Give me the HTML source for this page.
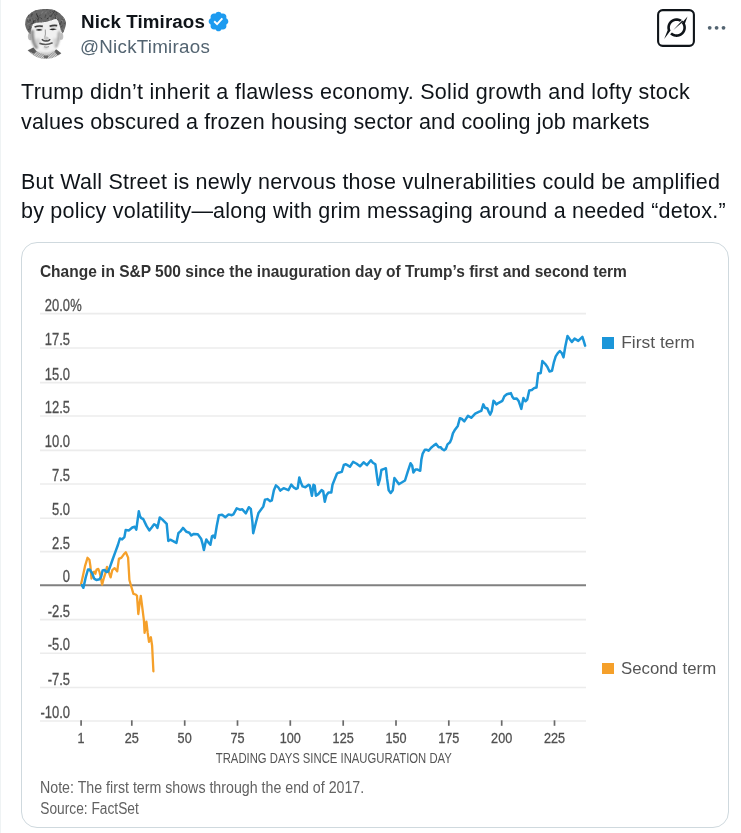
<!DOCTYPE html>
<html><head><meta charset="utf-8">
<style>
html,body{margin:0;padding:0;background:#fff;}
body{width:741px;height:833px;overflow:hidden;position:relative;font-family:"Liberation Sans",Arial,sans-serif;}
.abs{position:absolute;}
.vline{left:0;top:0;width:1px;height:833px;background:#eff3f4;}
.name{left:81px;top:10.8px;font-size:18.75px;letter-spacing:0.1px;font-weight:bold;color:#0f1419;white-space:nowrap;}
.handle{left:80px;top:35.9px;font-size:18.75px;letter-spacing:0.26px;color:#536471;white-space:nowrap;}
.bl{left:21px;font-size:21.5px;line-height:30px;color:#0f1419;white-space:nowrap;}
.card{left:21px;top:242px;width:706px;height:584px;border:1px solid #cfd9de;border-radius:16px;}
svg text{font-family:"Liberation Sans",Arial,sans-serif;}
</style></head><body>
<div class="abs vline"></div>
<svg class="abs" style="left:0;top:0" width="80" height="70" viewBox="0 0 80 70">
  <defs>
    <clipPath id="hc"><path d="M26.5 29.3 C25.5 27 25.2 24.8 25.2 24.8 C25.2 21 25.9 19 25.9 19 C27 16.5 29.1 14.4 29.1 14.4 C32 12 35 10.5 35 10.5 C39 9.3 43.4 8.9 43.4 8.9 C47 8.8 51.1 9.2 51.1 9.2 C55 10 58.3 12.2 58.3 12.2 C61 14.2 63.5 17 63.5 17 C65.3 19.5 66 22.2 66 22.2 C66.2 24.5 65.4 26.7 65.4 26.7 C64.6 29.5 63.5 31.9 63.5 31.9 L62.5 33.5 L60.9 30.6 C60.2 27.5 59.6 25.4 59.6 25.4 C59 23 58.3 21.5 58.3 21.5 C57.3 19.6 56.3 19 56.3 19 C55 19.2 53.7 19.6 53.7 19.6 C51 20.6 47.9 21.5 47.9 21.5 C44.5 22.1 41.4 22.5 41.4 22.5 C38.5 22.5 36.2 22.8 36.2 22.8 C34.5 23.3 33 24.1 33 24.1 C32.2 25.6 31.7 27.4 31.7 27.4 C30.8 30 30.5 34 30.5 34 L28.5 32.5 Z"/></clipPath>
    <filter id="b1" x="-20%" y="-20%" width="140%" height="140%"><feGaussianBlur stdDeviation="0.5"/></filter>
    <filter id="b2" x="-30%" y="-30%" width="160%" height="160%"><feGaussianBlur stdDeviation="1.1"/></filter>
    <pattern id="hatch2" width="1.4" height="1.4" patternUnits="userSpaceOnUse" patternTransform="rotate(-35)"><rect width="1.4" height="1.4" fill="#d6d6d6"/><rect width="0.5" height="1.4" fill="#7a7a7a"/></pattern>
  </defs>
  <path d="M27.6 50.2 L33 47.6 C36.5 51.8 41 54.2 46 54.6 C50.5 54.3 53.5 52 56 49.3 L61.4 53.2 C57 57.2 51 58.8 45 58.8 C38.5 58.6 32 55.6 27.6 50.2 Z" fill="url(#hatch2)"/>
  <g filter="url(#b1)">
    <path d="M27.8 50.6 L33.5 47.6 L36.5 51.5 L33.8 53.8 Z" fill="#5a5a5a"/>
    <path d="M61.2 53.3 L56 49.3 L54.4 51.6 L57.6 55.3 Z" fill="#5a5a5a"/>
    <path d="M43.5 55.5 L48.5 55.5 L47.6 58.3 L44.3 58.3 Z" fill="#666"/>
  </g>
  <ellipse cx="30.2" cy="36.5" rx="2.3" ry="3.8" fill="#bdbdbd" filter="url(#b1)"/>
  <ellipse cx="61.2" cy="36.4" rx="2.1" ry="3.4" fill="#c2c2c2" filter="url(#b1)"/>
  <path d="M30.8 30 C30.5 36 31 41 34.3 46.2 C36 48.6 38.2 50.7 43.4 54 C45 54.6 46.5 54.8 47.9 54.5 C50 53.8 52.4 52.3 52.4 52.3 C54.5 50.8 56.3 48.8 56.3 48.8 C58 46 58.9 43 58.9 43 C60 40 60.2 37.8 60.6 33 C61 27 60 22 58 20 L33 22 Z" fill="#f1f1f1"/>
  <g filter="url(#b2)" opacity="0.9">
    <path d="M32.2 30 C31.8 37 33 43 37 48.5" stroke="#7a7a7a" stroke-width="3.2" fill="none"/><path d="M59 33 C59 38 58 43 55.5 47" stroke="#8a8a8a" stroke-width="2.4" fill="none"/>
    <path d="M59.4 31 C59.3 37 58.5 42 56 47" stroke="#9a9a9a" stroke-width="2" fill="none"/>
    <ellipse cx="37.8" cy="41.5" rx="2.6" ry="3.2" fill="#cfcfcf"/>
    <ellipse cx="55" cy="41.5" rx="2.2" ry="3.4" fill="#d2d2d2"/>
    <ellipse cx="46" cy="48" rx="2.4" ry="1.2" fill="#c8c8c8"/>
    <path d="M36 52 Q46 56.5 55 51.5" stroke="#a8a8a8" stroke-width="1.6" fill="none"/>
    <ellipse cx="39" cy="27.5" rx="4" ry="2" fill="#d8d8d8"/>
    <ellipse cx="53.2" cy="27" rx="4" ry="2" fill="#d8d8d8"/>
  </g>
  <path d="M26.5 29.3 C25.5 27 25.2 24.8 25.2 24.8 C25.2 21 25.9 19 25.9 19 C27 16.5 29.1 14.4 29.1 14.4 C32 12 35 10.5 35 10.5 C39 9.3 43.4 8.9 43.4 8.9 C47 8.8 51.1 9.2 51.1 9.2 C55 10 58.3 12.2 58.3 12.2 C61 14.2 63.5 17 63.5 17 C65.3 19.5 66 22.2 66 22.2 C66.2 24.5 65.4 26.7 65.4 26.7 C64.6 29.5 63.5 31.9 63.5 31.9 L62.5 33.5 L60.9 30.6 C60.2 27.5 59.6 25.4 59.6 25.4 C59 23 58.3 21.5 58.3 21.5 C57.3 19.6 56.3 19 56.3 19 C55 19.2 53.7 19.6 53.7 19.6 C51 20.6 47.9 21.5 47.9 21.5 C44.5 22.1 41.4 22.5 41.4 22.5 C38.5 22.5 36.2 22.8 36.2 22.8 C34.5 23.3 33 24.1 33 24.1 C32.2 25.6 31.7 27.4 31.7 27.4 C30.8 30 30.5 34 30.5 34 L28.5 32.5 Z" fill="#686868"/>
  <g clip-path="url(#hc)">
    <path d="M34.8 22.4 L35.4 20.2" stroke="#2e2e2e" stroke-width="0.74"/><path d="M62.3 20.5 L63.6 18.2" stroke="#9a9a9a" stroke-width="0.83"/><path d="M44.5 24.8 L45.9 23.7" stroke="#9a9a9a" stroke-width="0.66"/><path d="M25.6 28.3 L24.0 27.5" stroke="#2e2e2e" stroke-width="0.83"/><path d="M36.0 23.7 L38.2 21.1" stroke="#8a8a8a" stroke-width="0.66"/><path d="M57.8 19.8 L55.0 18.0" stroke="#3a3a3a" stroke-width="0.70"/><path d="M35.6 25.6 L35.0 22.6" stroke="#8a8a8a" stroke-width="0.73"/><path d="M46.9 18.9 L48.6 17.9" stroke="#2e2e2e" stroke-width="0.84"/><path d="M65.6 25.6 L67.3 24.8" stroke="#9a9a9a" stroke-width="0.73"/><path d="M54.3 13.9 L52.7 11.1" stroke="#2e2e2e" stroke-width="0.69"/><path d="M51.2 20.8 L53.0 19.6" stroke="#2e2e2e" stroke-width="0.62"/><path d="M56.5 30.8 L55.1 30.1" stroke="#555" stroke-width="0.73"/><path d="M47.6 32.0 L45.7 31.1" stroke="#2e2e2e" stroke-width="0.53"/><path d="M49.6 9.3 L50.1 7.5" stroke="#3a3a3a" stroke-width="0.78"/><path d="M65.2 17.2 L66.9 15.8" stroke="#8a8a8a" stroke-width="0.68"/><path d="M46.3 24.9 L47.1 22.3" stroke="#9a9a9a" stroke-width="0.61"/><path d="M51.0 26.7 L49.1 23.9" stroke="#444" stroke-width="0.72"/><path d="M25.5 19.1 L26.2 16.5" stroke="#555" stroke-width="0.55"/><path d="M51.0 17.0 L51.6 14.8" stroke="#444" stroke-width="0.80"/><path d="M25.9 10.0 L24.3 7.7" stroke="#8a8a8a" stroke-width="0.62"/><path d="M49.7 13.0 L51.1 11.8" stroke="#444" stroke-width="0.62"/><path d="M40.5 28.2 L41.3 26.9" stroke="#444" stroke-width="0.70"/><path d="M51.8 15.4 L52.6 13.4" stroke="#2e2e2e" stroke-width="0.54"/><path d="M38.2 17.0 L40.6 15.0" stroke="#3a3a3a" stroke-width="0.53"/><path d="M55.4 14.1 L57.1 12.0" stroke="#2e2e2e" stroke-width="0.71"/><path d="M32.8 29.1 L31.2 26.3" stroke="#555" stroke-width="0.53"/><path d="M50.4 23.5 L52.2 22.0" stroke="#8a8a8a" stroke-width="0.64"/><path d="M42.1 19.2 L40.4 17.7" stroke="#2e2e2e" stroke-width="0.69"/><path d="M59.1 24.4 L61.5 23.4" stroke="#555" stroke-width="0.59"/><path d="M55.6 29.8 L54.2 27.4" stroke="#444" stroke-width="0.86"/><path d="M60.3 30.4 L58.3 27.6" stroke="#2e2e2e" stroke-width="0.86"/><path d="M53.4 32.1 L54.1 28.8" stroke="#2e2e2e" stroke-width="0.69"/><path d="M30.0 21.3 L30.1 19.4" stroke="#2e2e2e" stroke-width="0.88"/><path d="M50.1 17.2 L50.0 15.2" stroke="#2e2e2e" stroke-width="0.64"/><path d="M33.1 22.1 L35.1 19.8" stroke="#3a3a3a" stroke-width="0.83"/><path d="M25.3 24.5 L23.6 21.8" stroke="#444" stroke-width="0.75"/><path d="M46.3 9.8 L48.0 8.4" stroke="#3a3a3a" stroke-width="0.52"/><path d="M27.0 20.8 L27.1 19.2" stroke="#8a8a8a" stroke-width="0.63"/><path d="M37.9 17.5 L37.0 14.8" stroke="#3a3a3a" stroke-width="0.90"/><path d="M42.6 11.8 L43.6 10.6" stroke="#9a9a9a" stroke-width="0.57"/><path d="M40.3 23.9 L42.4 21.6" stroke="#9a9a9a" stroke-width="0.85"/><path d="M27.2 24.5 L29.9 23.1" stroke="#8a8a8a" stroke-width="0.68"/><path d="M35.0 22.2 L34.5 19.3" stroke="#8a8a8a" stroke-width="0.55"/><path d="M26.2 16.8 L28.9 14.7" stroke="#2e2e2e" stroke-width="0.69"/><path d="M30.0 29.2 L31.9 27.1" stroke="#555" stroke-width="0.54"/><path d="M38.1 22.1 L37.9 18.9" stroke="#3a3a3a" stroke-width="0.81"/><path d="M26.8 10.8 L25.6 9.6" stroke="#2e2e2e" stroke-width="0.64"/><path d="M59.9 9.1 L60.7 7.6" stroke="#444" stroke-width="0.73"/><path d="M57.7 9.4 L59.3 6.8" stroke="#2e2e2e" stroke-width="0.72"/><path d="M29.1 22.6 L27.3 20.8" stroke="#2e2e2e" stroke-width="0.60"/><path d="M32.4 14.9 L31.7 12.2" stroke="#444" stroke-width="0.74"/><path d="M63.5 22.7 L61.4 20.0" stroke="#8a8a8a" stroke-width="0.84"/><path d="M64.7 19.1 L66.9 17.7" stroke="#555" stroke-width="0.69"/><path d="M51.4 31.4 L52.4 29.9" stroke="#555" stroke-width="0.71"/><path d="M43.2 26.8 L41.9 25.4" stroke="#9a9a9a" stroke-width="0.71"/><path d="M63.3 30.2 L64.4 27.9" stroke="#8a8a8a" stroke-width="0.74"/><path d="M49.0 33.6 L47.2 30.8" stroke="#8a8a8a" stroke-width="0.58"/><path d="M48.4 14.6 L47.9 12.2" stroke="#555" stroke-width="0.69"/><path d="M49.6 20.4 L50.0 17.3" stroke="#8a8a8a" stroke-width="0.90"/><path d="M28.0 32.7 L25.2 31.3" stroke="#3a3a3a" stroke-width="0.86"/><path d="M51.6 28.3 L50.7 27.0" stroke="#3a3a3a" stroke-width="0.81"/><path d="M30.6 24.4 L33.1 23.0" stroke="#3a3a3a" stroke-width="0.85"/><path d="M37.9 19.3 L35.4 17.7" stroke="#444" stroke-width="0.51"/><path d="M43.5 27.2 L42.7 25.2" stroke="#8a8a8a" stroke-width="0.69"/><path d="M33.6 23.4 L34.0 20.0" stroke="#2e2e2e" stroke-width="0.85"/><path d="M28.1 19.5 L26.8 17.6" stroke="#9a9a9a" stroke-width="0.88"/><path d="M40.3 28.2 L41.6 25.5" stroke="#555" stroke-width="0.88"/><path d="M58.5 11.2 L59.1 7.9" stroke="#9a9a9a" stroke-width="0.55"/><path d="M45.2 17.5 L45.7 14.6" stroke="#3a3a3a" stroke-width="0.76"/><path d="M54.9 12.3 L54.7 10.1" stroke="#2e2e2e" stroke-width="0.87"/><path d="M30.8 17.0 L31.2 14.0" stroke="#555" stroke-width="0.57"/><path d="M44.8 28.4 L42.7 26.4" stroke="#9a9a9a" stroke-width="0.72"/><path d="M55.3 17.7 L56.9 16.4" stroke="#2e2e2e" stroke-width="0.69"/><path d="M36.1 26.2 L38.4 25.1" stroke="#8a8a8a" stroke-width="0.72"/><path d="M56.6 17.5 L54.9 14.8" stroke="#2e2e2e" stroke-width="0.77"/><path d="M48.1 31.7 L48.4 30.0" stroke="#555" stroke-width="0.80"/><path d="M58.4 27.6 L57.8 25.0" stroke="#3a3a3a" stroke-width="0.72"/><path d="M32.0 13.1 L30.4 10.2" stroke="#8a8a8a" stroke-width="0.86"/><path d="M63.9 18.3 L64.8 15.8" stroke="#9a9a9a" stroke-width="0.77"/><path d="M37.3 30.4 L38.6 28.3" stroke="#2e2e2e" stroke-width="0.54"/><path d="M56.0 14.5 L54.8 13.1" stroke="#9a9a9a" stroke-width="0.58"/><path d="M58.3 32.1 L56.6 29.2" stroke="#555" stroke-width="0.86"/><path d="M30.6 28.7 L29.6 26.1" stroke="#3a3a3a" stroke-width="0.70"/><path d="M45.4 9.0 L44.6 7.0" stroke="#555" stroke-width="0.55"/><path d="M60.2 23.8 L62.0 21.0" stroke="#444" stroke-width="0.90"/><path d="M33.4 10.1 L32.2 8.6" stroke="#444" stroke-width="0.54"/><path d="M26.8 10.5 L26.7 8.6" stroke="#555" stroke-width="0.53"/><path d="M59.9 13.8 L59.7 11.3" stroke="#555" stroke-width="0.66"/><path d="M32.4 31.4 L31.5 28.6" stroke="#9a9a9a" stroke-width="0.64"/><path d="M41.5 33.2 L40.5 30.3" stroke="#8a8a8a" stroke-width="0.71"/><path d="M31.5 9.1 L32.4 6.5" stroke="#3a3a3a" stroke-width="0.54"/><path d="M31.9 21.0 L31.7 19.4" stroke="#8a8a8a" stroke-width="0.51"/><path d="M54.3 14.6 L55.6 13.7" stroke="#3a3a3a" stroke-width="0.60"/><path d="M41.0 13.4 L42.8 12.2" stroke="#9a9a9a" stroke-width="0.52"/><path d="M54.8 15.5 L57.5 14.0" stroke="#444" stroke-width="0.70"/><path d="M48.0 9.3 L47.1 7.3" stroke="#2e2e2e" stroke-width="0.77"/><path d="M64.7 23.6 L63.5 22.8" stroke="#3a3a3a" stroke-width="0.70"/><path d="M44.8 13.3 L46.8 11.9" stroke="#8a8a8a" stroke-width="0.64"/><path d="M44.6 17.5 L46.2 15.2" stroke="#555" stroke-width="0.88"/><path d="M28.6 16.0 L27.7 12.9" stroke="#444" stroke-width="0.71"/><path d="M56.9 18.8 L56.0 15.7" stroke="#9a9a9a" stroke-width="0.64"/><path d="M32.5 28.9 L33.7 26.9" stroke="#444" stroke-width="0.61"/><path d="M32.0 26.9 L31.2 24.3" stroke="#8a8a8a" stroke-width="0.52"/><path d="M32.0 27.7 L33.5 24.9" stroke="#555" stroke-width="0.54"/><path d="M34.7 30.0 L36.9 28.3" stroke="#8a8a8a" stroke-width="0.69"/><path d="M60.6 25.0 L58.2 22.4" stroke="#2e2e2e" stroke-width="0.64"/><path d="M37.8 20.0 L39.2 17.2" stroke="#3a3a3a" stroke-width="0.87"/><path d="M30.9 33.6 L29.7 32.3" stroke="#9a9a9a" stroke-width="0.71"/><path d="M45.7 31.6 L47.1 30.0" stroke="#8a8a8a" stroke-width="0.57"/><path d="M28.2 29.6 L29.8 28.8" stroke="#3a3a3a" stroke-width="0.88"/><path d="M35.5 11.3 L36.4 9.2" stroke="#2e2e2e" stroke-width="0.76"/><path d="M56.2 30.7 L55.9 28.6" stroke="#2e2e2e" stroke-width="0.62"/><path d="M63.7 19.8 L61.6 19.0" stroke="#444" stroke-width="0.79"/><path d="M28.2 17.3 L28.5 14.9" stroke="#555" stroke-width="0.65"/><path d="M57.1 10.2 L59.0 8.5" stroke="#2e2e2e" stroke-width="0.63"/><path d="M42.7 10.6 L44.3 9.7" stroke="#555" stroke-width="0.59"/><path d="M60.9 27.2 L62.7 25.7" stroke="#444" stroke-width="0.88"/><path d="M62.0 32.7 L61.5 30.3" stroke="#9a9a9a" stroke-width="0.87"/><path d="M37.0 32.3 L37.9 30.7" stroke="#444" stroke-width="0.70"/><path d="M27.5 20.5 L27.5 18.6" stroke="#2e2e2e" stroke-width="0.64"/><path d="M55.4 27.5 L54.4 25.7" stroke="#8a8a8a" stroke-width="0.68"/><path d="M33.4 20.9 L32.5 18.0" stroke="#555" stroke-width="0.65"/><path d="M31.6 16.5 L31.9 14.0" stroke="#444" stroke-width="0.88"/><path d="M36.8 9.3 L38.4 7.7" stroke="#555" stroke-width="0.60"/><path d="M58.1 8.8 L58.2 7.0" stroke="#3a3a3a" stroke-width="0.88"/><path d="M25.1 33.6 L27.9 32.3" stroke="#444" stroke-width="0.89"/><path d="M26.4 13.2 L25.9 11.8" stroke="#2e2e2e" stroke-width="0.74"/><path d="M58.3 20.0 L58.3 18.0" stroke="#555" stroke-width="0.60"/><path d="M26.8 19.5 L29.1 18.0" stroke="#9a9a9a" stroke-width="0.60"/><path d="M30.6 27.8 L32.8 25.7" stroke="#9a9a9a" stroke-width="0.55"/><path d="M25.7 9.7 L27.4 7.9" stroke="#8a8a8a" stroke-width="0.69"/><path d="M52.3 32.2 L51.6 29.1" stroke="#9a9a9a" stroke-width="0.75"/><path d="M37.0 10.4 L35.6 9.4" stroke="#444" stroke-width="0.68"/><path d="M36.4 15.0 L36.8 13.0" stroke="#3a3a3a" stroke-width="0.71"/><path d="M41.9 30.2 L42.7 27.2" stroke="#2e2e2e" stroke-width="0.63"/><path d="M49.5 11.5 L50.5 10.0" stroke="#444" stroke-width="0.54"/><path d="M52.4 18.0 L54.7 16.9" stroke="#555" stroke-width="0.68"/><path d="M37.8 17.3 L37.1 14.6" stroke="#2e2e2e" stroke-width="0.61"/><path d="M63.9 32.6 L62.9 30.7" stroke="#3a3a3a" stroke-width="0.67"/><path d="M41.9 31.4 L43.3 29.4" stroke="#555" stroke-width="0.71"/>
  </g>
  <g filter="url(#b1)">
    <path d="M34.6 27 Q38.8 25.4 42.8 26.4" stroke="#3c3c3c" stroke-width="1.7" fill="none"/>
    <path d="M49.6 26.3 Q53.5 24.8 57.2 25.6" stroke="#3c3c3c" stroke-width="1.7" fill="none"/>
    <path d="M35.6 30 Q39 28.2 42.6 29.9 Q39 31.4 35.6 30 Z" fill="#262626"/>
    <path d="M49.3 29.4 Q53 27.6 56.8 29.3 Q53 30.9 49.3 29.4 Z" fill="#262626"/>
    <path d="M45.3 29.5 C45.8 33 45.3 36 44.6 38.3" stroke="#a0a0a0" stroke-width="1.1" fill="none"/>
    <path d="M41.8 39.2 Q44 41.6 46.2 40.7 Q48.3 41.6 50.2 39.2" stroke="#4a4a4a" stroke-width="1.5" fill="none"/><ellipse cx="46.2" cy="38.2" rx="2.6" ry="1.8" fill="#c4c4c4"/>
    <path d="M39.4 43.2 Q46 45.8 52.6 42.8" stroke="#5a5a5a" stroke-width="1.5" fill="none"/>
    <path d="M44 46.8 Q46.5 47.8 49 46.6" stroke="#9a9a9a" stroke-width="1.1" fill="none"/>
  </g>
</svg>
<div class="abs name">Nick Timiraos</div>
<svg class="abs" style="left:207.4px;top:10.2px" width="23" height="23" viewBox="0 0 24 24"><path fill="#1d9bf0" d="M22.25 12c0-1.43-.88-2.67-2.19-3.34.46-1.39.2-2.9-.81-3.91s-2.52-1.27-3.91-.81c-.66-1.31-1.91-2.19-3.34-2.19s-2.67.88-3.33 2.19c-1.4-.46-2.91-.2-3.92.81s-1.26 2.52-.8 3.91c-1.31.67-2.2 1.91-2.2 3.34s.89 2.67 2.2 3.34c-.46 1.39-.21 2.9.8 3.91s2.52 1.26 3.91.81c.67 1.31 1.91 2.19 3.34 2.19s2.68-.88 3.34-2.19c1.39.45 2.9.2 3.91-.81s1.27-2.52.81-3.91c1.31-.67 2.19-1.91 2.19-3.34zm-11.71 4.2L6.8 12.46l1.41-1.42 2.26 2.26 4.8-5.23 1.47 1.36-6.2 6.77z"/></svg>
<div class="abs handle">@NickTimiraos</div>
<svg class="abs" style="left:654px;top:6px" width="44" height="44" viewBox="0 0 44 44">
  <rect x="4.1" y="4.1" width="35.8" height="35.8" rx="4.6" fill="none" stroke="#0f1419" stroke-width="2.1"/>
  <path d="M13.66 24.16 L13.62 24.01 L13.58 23.85 L13.54 23.69 L13.50 23.53 L13.47 23.37 L13.44 23.21 L13.41 23.05 L13.39 22.89 L13.37 22.73 L13.35 22.57 L13.34 22.41 L13.32 22.25 L13.31 22.09 L13.31 21.92 L13.30 21.76 L13.30 21.60 L13.30 21.44 L13.31 21.28 L13.31 21.11 L13.32 20.95 L13.34 20.79 L13.35 20.63 L13.37 20.47 L13.39 20.31 L13.41 20.15 L13.44 19.99 L13.47 19.83 L13.50 19.67 L13.54 19.51 L13.58 19.35 L13.62 19.19 L13.66 19.04 L13.71 18.88 L13.76 18.73 L13.81 18.57 L13.86 18.42 L13.92 18.27 L13.98 18.12 L14.04 17.97 L14.10 17.82 L14.17 17.67 L14.24 17.52 L14.31 17.38 L14.39 17.23 L14.47 17.09 L14.55 16.95 L14.63 16.81 L14.71 16.67 L14.80 16.53 L14.89 16.40 L14.98 16.27 L15.08 16.13 L15.17 16.00 L15.27 15.87 L15.37 15.75 L15.48 15.62 L15.58 15.50 L15.69 15.38 L15.80 15.26 L15.91 15.14 L16.02 15.02 L16.14 14.91 L16.26 14.80 L16.38 14.69 L16.50 14.58 L16.62 14.48 L16.75 14.37 L16.87 14.27 L17.00 14.17 L17.13 14.08 L17.27 13.98 L17.40 13.89 L17.53 13.80 L17.67 13.71 L17.81 13.63 L17.95 13.55 L18.09 13.47 L18.23 13.39 L18.38 13.31 L18.52 13.24 L18.67 13.17 L18.82 13.10 L18.97 13.04 L19.12 12.98 L19.27 12.92 L19.42 12.86 L19.57 12.81 L19.73 12.76 L19.88 12.71 L20.04 12.66 L20.19 12.62 L20.35 12.58 L20.51 12.54 L20.67 12.50 L20.83 12.47 L20.99 12.44 L21.15 12.41 L21.31 12.39 L21.47 12.37 L21.63 12.35 L21.79 12.34 L21.95 12.32 L22.11 12.31 L22.28 12.31 L22.44 12.30 L22.60 12.30 L22.76 12.30 L22.92 12.31 L23.09 12.31 L23.25 12.32 L23.41 12.34 L23.57 12.35 L23.73 12.37 L23.89 12.39 L24.05 12.41 L24.21 12.44 L24.37 12.47 L24.53 12.50 L24.69 12.54 L24.85 12.58 L25.01 12.62 L25.16 12.66 L25.32 12.71 L25.47 12.76 L25.63 12.81 L25.78 12.86 L25.93 12.92 L26.08 12.98 L26.23 13.04 L26.38 13.10 L26.53 13.17 L26.68 13.24 L26.82 13.31 L26.97 13.39 L27.11 13.47 L27.25 13.55 L27.39 13.63 L27.53 13.71 L27.67 13.80 L27.80 13.89 L25.85 15.74 L25.75 15.68 L25.64 15.63 L25.54 15.58 L25.43 15.53 L25.33 15.48 L25.22 15.43 L25.11 15.39 L25.00 15.35 L24.89 15.30 L24.78 15.27 L24.67 15.23 L24.56 15.19 L24.45 15.16 L24.33 15.13 L24.22 15.10 L24.11 15.07 L23.99 15.05 L23.88 15.02 L23.76 15.00 L23.65 14.98 L23.53 14.97 L23.42 14.95 L23.30 14.94 L23.18 14.93 L23.07 14.92 L22.95 14.91 L22.83 14.90 L22.72 14.90 L22.60 14.90 L22.48 14.90 L22.37 14.90 L22.25 14.91 L22.13 14.92 L22.02 14.93 L21.90 14.94 L21.78 14.95 L21.67 14.97 L21.55 14.98 L21.44 15.00 L21.32 15.02 L21.21 15.05 L21.09 15.07 L20.98 15.10 L20.87 15.13 L20.75 15.16 L20.64 15.19 L20.53 15.23 L20.42 15.27 L20.31 15.30 L20.20 15.35 L20.09 15.39 L19.98 15.43 L19.87 15.48 L19.77 15.53 L19.66 15.58 L19.56 15.63 L19.45 15.68 L19.35 15.74 L19.25 15.80 L19.15 15.86 L19.05 15.92 L18.95 15.98 L18.85 16.05 L18.76 16.11 L18.66 16.18 L18.57 16.25 L18.48 16.32 L18.38 16.39 L18.29 16.47 L18.20 16.54 L18.12 16.62 L18.03 16.70 L17.95 16.78 L17.86 16.86 L17.78 16.95 L17.70 17.03 L17.62 17.12 L17.54 17.20 L17.47 17.29 L17.39 17.38 L17.32 17.48 L17.25 17.57 L17.18 17.66 L17.11 17.76 L17.05 17.85 L16.98 17.95 L16.92 18.05 L16.86 18.15 L16.80 18.25 L16.74 18.35 L16.68 18.45 L16.63 18.56 L16.58 18.66 L16.53 18.77 L16.48 18.87 L16.43 18.98 L16.39 19.09 L16.35 19.20 L16.30 19.31 L16.27 19.42 L16.23 19.53 L16.19 19.64 L16.16 19.75 L16.13 19.87 L16.10 19.98 L16.07 20.09 L16.05 20.21 L16.02 20.32 L16.00 20.44 L15.98 20.55 L15.97 20.67 L15.95 20.78 L15.94 20.90 L15.93 21.02 L15.92 21.13 L15.91 21.25 L15.90 21.37 L15.90 21.48 L15.90 21.60 L15.90 21.72 L15.90 21.83 L15.91 21.95 L15.92 22.07 L15.93 22.18 L15.94 22.30 L15.95 22.42 L15.97 22.53 L15.98 22.65 L16.00 22.76 L16.02 22.88 L16.05 22.99 L16.07 23.11 L16.10 23.22 L16.13 23.33 L16.16 23.45 L16.19 23.56 L16.23 23.67 L16.27 23.78 L16.30 23.89 L16.35 24.00 L16.39 24.11 L16.43 24.22 L16.48 24.33 L16.53 24.43 L16.58 24.54 L10.20 32.90 Z" fill="#0f1419"/>
  <path d="M33.50 10.40 L30.96 17.52 L31.03 17.67 L31.10 17.82 L31.16 17.97 L31.22 18.12 L31.28 18.27 L31.34 18.42 L31.39 18.57 L31.44 18.73 L31.49 18.88 L31.54 19.04 L31.58 19.19 L31.62 19.35 L31.66 19.51 L31.70 19.67 L31.73 19.83 L31.76 19.99 L31.79 20.15 L31.81 20.31 L31.83 20.47 L31.85 20.63 L31.86 20.79 L31.88 20.95 L31.89 21.11 L31.89 21.28 L31.90 21.44 L31.90 21.60 L31.90 21.76 L31.89 21.92 L31.89 22.09 L31.88 22.25 L31.86 22.41 L31.85 22.57 L31.83 22.73 L31.81 22.89 L31.79 23.05 L31.76 23.21 L31.73 23.37 L31.70 23.53 L31.66 23.69 L31.62 23.85 L31.58 24.01 L31.54 24.16 L31.49 24.32 L31.44 24.47 L31.39 24.63 L31.34 24.78 L31.28 24.93 L31.22 25.08 L31.16 25.23 L31.10 25.38 L31.03 25.53 L30.96 25.68 L30.89 25.82 L30.81 25.97 L30.73 26.11 L30.65 26.25 L30.57 26.39 L30.49 26.53 L30.40 26.67 L30.31 26.80 L30.22 26.93 L30.12 27.07 L30.03 27.20 L29.93 27.33 L29.83 27.45 L29.72 27.58 L29.62 27.70 L29.51 27.82 L29.40 27.94 L29.29 28.06 L29.18 28.18 L29.06 28.29 L28.94 28.40 L28.82 28.51 L28.70 28.62 L28.58 28.72 L28.45 28.83 L28.33 28.93 L28.20 29.03 L28.07 29.12 L27.93 29.22 L27.80 29.31 L27.67 29.40 L27.53 29.49 L27.39 29.57 L27.25 29.65 L27.11 29.73 L26.97 29.81 L26.82 29.89 L26.68 29.96 L26.53 30.03 L26.38 30.10 L26.23 30.16 L26.08 30.22 L25.93 30.28 L25.78 30.34 L25.63 30.39 L25.47 30.44 L25.32 30.49 L25.16 30.54 L25.01 30.58 L24.85 30.62 L24.69 30.66 L24.53 30.70 L24.37 30.73 L24.21 30.76 L24.05 30.79 L23.89 30.81 L23.73 30.83 L23.57 30.85 L23.41 30.86 L23.25 30.88 L23.09 30.89 L22.92 30.89 L22.76 30.90 L22.60 30.90 L22.44 30.90 L22.28 30.89 L22.11 30.89 L21.95 30.88 L21.79 30.86 L21.63 30.85 L21.47 30.83 L21.31 30.81 L21.15 30.79 L20.99 30.76 L20.83 30.73 L20.67 30.70 L20.51 30.66 L20.35 30.62 L20.19 30.58 L20.04 30.54 L19.88 30.49 L19.73 30.44 L19.57 30.39 L19.42 30.34 L19.27 30.28 L19.12 30.22 L18.97 30.16 L18.82 30.10 L18.67 30.03 L18.52 29.96 L18.38 29.89 L18.23 29.81 L18.09 29.73 L17.95 29.65 L17.81 29.57 L17.67 29.49 L17.53 29.40 L17.40 29.31 L17.27 29.22 L17.13 29.12 L17.00 29.03 L16.87 28.93 L16.75 28.83 L16.62 28.72 L16.50 28.62 L16.38 28.51 L16.26 28.40 L16.14 28.29 L17.95 26.42 L18.03 26.50 L18.12 26.58 L18.20 26.66 L18.29 26.73 L18.38 26.81 L18.48 26.88 L18.57 26.95 L18.66 27.02 L18.76 27.09 L18.85 27.15 L18.95 27.22 L19.05 27.28 L19.15 27.34 L19.25 27.40 L19.35 27.46 L19.45 27.52 L19.56 27.57 L19.66 27.62 L19.77 27.67 L19.87 27.72 L19.98 27.77 L20.09 27.81 L20.20 27.85 L20.31 27.90 L20.42 27.93 L20.53 27.97 L20.64 28.01 L20.75 28.04 L20.87 28.07 L20.98 28.10 L21.09 28.13 L21.21 28.15 L21.32 28.18 L21.44 28.20 L21.55 28.22 L21.67 28.23 L21.78 28.25 L21.90 28.26 L22.02 28.27 L22.13 28.28 L22.25 28.29 L22.37 28.30 L22.48 28.30 L22.60 28.30 L22.72 28.30 L22.83 28.30 L22.95 28.29 L23.07 28.28 L23.18 28.27 L23.30 28.26 L23.42 28.25 L23.53 28.23 L23.65 28.22 L23.76 28.20 L23.88 28.18 L23.99 28.15 L24.11 28.13 L24.22 28.10 L24.33 28.07 L24.45 28.04 L24.56 28.01 L24.67 27.97 L24.78 27.93 L24.89 27.90 L25.00 27.85 L25.11 27.81 L25.22 27.77 L25.33 27.72 L25.43 27.67 L25.54 27.62 L25.64 27.57 L25.75 27.52 L25.85 27.46 L25.95 27.40 L26.05 27.34 L26.15 27.28 L26.25 27.22 L26.35 27.15 L26.44 27.09 L26.54 27.02 L26.63 26.95 L26.72 26.88 L26.82 26.81 L26.91 26.73 L27.00 26.66 L27.08 26.58 L27.17 26.50 L27.25 26.42 L27.34 26.34 L27.42 26.25 L27.50 26.17 L27.58 26.08 L27.66 26.00 L27.73 25.91 L27.81 25.82 L27.88 25.72 L27.95 25.63 L28.02 25.54 L28.09 25.44 L28.15 25.35 L28.22 25.25 L28.28 25.15 L28.34 25.05 L28.40 24.95 L28.46 24.85 L28.52 24.75 L28.57 24.64 L28.62 24.54 L28.67 24.43 L28.72 24.33 L28.77 24.22 L28.81 24.11 L28.85 24.00 L28.90 23.89 L28.93 23.78 L28.97 23.67 L29.01 23.56 L29.04 23.45 L29.07 23.33 L29.10 23.22 L29.13 23.11 L29.15 22.99 L29.18 22.88 L29.20 22.76 L29.22 22.65 L29.23 22.53 L29.25 22.42 L29.26 22.30 L29.27 22.18 L29.28 22.07 L29.29 21.95 L29.30 21.83 L29.30 21.72 L29.30 21.60 L29.30 21.48 L29.30 21.37 L29.29 21.25 L29.28 21.13 L29.27 21.02 L29.26 20.90 L29.25 20.78 L29.23 20.67 L29.22 20.55 L29.20 20.44 L29.18 20.32 L29.15 20.21 L29.13 20.09 L29.10 19.98 L29.07 19.87 L29.04 19.75 L29.01 19.64 L28.97 19.53 L28.93 19.42 L28.90 19.31 L28.85 19.20 L28.81 19.09 L28.77 18.98 L28.72 18.87 L28.67 18.77 L28.62 18.66 L28.57 18.56 L28.52 18.45 L28.46 18.35 L28.40 18.25 L28.34 18.15 L28.28 18.05 L28.22 17.95 L28.15 17.85 L28.09 17.76 L28.02 17.66 L27.95 17.57 L27.88 17.48 L27.81 17.38 L27.73 17.29 L27.66 17.20 Z" fill="#0f1419"/>
  <path d="M19.32 23.95 L28.16 14.39 L29.33 15.62 Z" fill="#0f1419"/>
</svg>
<svg class="abs" style="left:700px;top:20px" width="30" height="16" viewBox="0 0 30 16">
  <circle cx="9.7" cy="7.8" r="1.9" fill="#536471"/><circle cx="16.6" cy="7.8" r="1.9" fill="#536471"/><circle cx="23.5" cy="7.8" r="1.9" fill="#536471"/>
</svg>
<div class="abs bl" style="top:77.0px;left:21px;letter-spacing:0.294px">Trump didn’t inherit a flawless economy. Solid growth and lofty stock</div>
<div class="abs bl" style="top:106.85px;left:21px;letter-spacing:0.15px">values obscured a frozen housing sector and cooling job markets</div>
<div class="abs bl" style="top:166.6px;left:21px;letter-spacing:0.24px">But Wall Street is newly nervous those vulnerabilities could be amplified</div>
<div class="abs bl" style="top:196.45px;left:21px;letter-spacing:0.215px">by policy volatility—along with grim messaging around a needed “detox.”</div>

<div class="abs card"></div>
<svg class="abs" style="left:0;top:0" width="741" height="833" viewBox="0 0 741 833">
  <text x="39.9" y="277.1" font-weight="bold" font-size="16.6" fill="#333" textLength="587" lengthAdjust="spacingAndGlyphs">Change in S&amp;P 500 since the inauguration day of Trump’s first and second term</text>
  <g font-size="15.6" fill="#505050" stroke="#505050" stroke-width="0.3">
<line x1="40" y1="313.6" x2="586" y2="313.6" stroke="#ececec" stroke-width="1.6"/>
<line x1="40" y1="348.0" x2="586" y2="348.0" stroke="#ececec" stroke-width="1.6"/>
<line x1="40" y1="382.6" x2="586" y2="382.6" stroke="#ececec" stroke-width="1.6"/>
<line x1="40" y1="416.0" x2="586" y2="416.0" stroke="#ececec" stroke-width="1.6"/>
<line x1="40" y1="450.4" x2="586" y2="450.4" stroke="#ececec" stroke-width="1.6"/>
<line x1="40" y1="484.0" x2="586" y2="484.0" stroke="#ececec" stroke-width="1.6"/>
<line x1="40" y1="518.3" x2="586" y2="518.3" stroke="#ececec" stroke-width="1.6"/>
<line x1="40" y1="551.6" x2="586" y2="551.6" stroke="#ececec" stroke-width="1.6"/>
<line x1="40" y1="619.6" x2="586" y2="619.6" stroke="#ececec" stroke-width="1.6"/>
<line x1="40" y1="653.2" x2="586" y2="653.2" stroke="#ececec" stroke-width="1.6"/>
<line x1="40" y1="687.5" x2="586" y2="687.5" stroke="#ececec" stroke-width="1.6"/>
<line x1="40" y1="721.0" x2="586" y2="721.0" stroke="#ececec" stroke-width="1.6"/>
<line x1="81.1" y1="720.3" x2="81.1" y2="725.8" stroke="#6a6a6a" stroke-width="1.7"/>
<line x1="131.8" y1="720.3" x2="131.8" y2="725.8" stroke="#6a6a6a" stroke-width="1.7"/>
<line x1="184.7" y1="720.3" x2="184.7" y2="725.8" stroke="#6a6a6a" stroke-width="1.7"/>
<line x1="237.5" y1="720.3" x2="237.5" y2="725.8" stroke="#6a6a6a" stroke-width="1.7"/>
<line x1="290.3" y1="720.3" x2="290.3" y2="725.8" stroke="#6a6a6a" stroke-width="1.7"/>
<line x1="343.2" y1="720.3" x2="343.2" y2="725.8" stroke="#6a6a6a" stroke-width="1.7"/>
<line x1="396.0" y1="720.3" x2="396.0" y2="725.8" stroke="#6a6a6a" stroke-width="1.7"/>
<line x1="448.8" y1="720.3" x2="448.8" y2="725.8" stroke="#6a6a6a" stroke-width="1.7"/>
<line x1="501.7" y1="720.3" x2="501.7" y2="725.8" stroke="#6a6a6a" stroke-width="1.7"/>
<line x1="554.5" y1="720.3" x2="554.5" y2="725.8" stroke="#6a6a6a" stroke-width="1.7"/>
<text x="44.8" y="310.6" textLength="25.2" lengthAdjust="spacingAndGlyphs">20.0</text>
<text x="70.2" y="310.6" textLength="11.5" lengthAdjust="spacingAndGlyphs">%</text>
<text x="44.8" y="345.0" textLength="25.2" lengthAdjust="spacingAndGlyphs">17.5</text>
<text x="44.8" y="379.6" textLength="25.2" lengthAdjust="spacingAndGlyphs">15.0</text>
<text x="44.8" y="413.0" textLength="25.2" lengthAdjust="spacingAndGlyphs">12.5</text>
<text x="44.8" y="447.4" textLength="25.2" lengthAdjust="spacingAndGlyphs">10.0</text>
<text x="52.0" y="481.0" textLength="18.0" lengthAdjust="spacingAndGlyphs">7.5</text>
<text x="52.0" y="515.3" textLength="18.0" lengthAdjust="spacingAndGlyphs">5.0</text>
<text x="52.0" y="548.6" textLength="18.0" lengthAdjust="spacingAndGlyphs">2.5</text>
<text x="62.8" y="582.2" textLength="7.2" lengthAdjust="spacingAndGlyphs">0</text>
<text x="47.7" y="616.6" textLength="22.3" lengthAdjust="spacingAndGlyphs">-2.5</text>
<text x="47.7" y="650.2" textLength="22.3" lengthAdjust="spacingAndGlyphs">-5.0</text>
<text x="47.7" y="684.5" textLength="22.3" lengthAdjust="spacingAndGlyphs">-7.5</text>
<text x="40.5" y="718.0" textLength="29.5" lengthAdjust="spacingAndGlyphs">-10.0</text>
<text x="77.6" y="743.4" font-size="15" textLength="7.0" lengthAdjust="spacingAndGlyphs">1</text>
<text x="124.8" y="743.4" font-size="15" textLength="14.1" lengthAdjust="spacingAndGlyphs">25</text>
<text x="177.6" y="743.4" font-size="15" textLength="14.1" lengthAdjust="spacingAndGlyphs">50</text>
<text x="230.4" y="743.4" font-size="15" textLength="14.1" lengthAdjust="spacingAndGlyphs">75</text>
<text x="279.8" y="743.4" font-size="15" textLength="21.1" lengthAdjust="spacingAndGlyphs">100</text>
<text x="332.6" y="743.4" font-size="15" textLength="21.1" lengthAdjust="spacingAndGlyphs">125</text>
<text x="385.4" y="743.4" font-size="15" textLength="21.1" lengthAdjust="spacingAndGlyphs">150</text>
<text x="438.3" y="743.4" font-size="15" textLength="21.1" lengthAdjust="spacingAndGlyphs">175</text>
<text x="491.1" y="743.4" font-size="15" textLength="21.1" lengthAdjust="spacingAndGlyphs">200</text>
<text x="543.9" y="743.4" font-size="15" textLength="21.1" lengthAdjust="spacingAndGlyphs">225</text>
  </g>
  <line x1="40" y1="585.2" x2="586" y2="585.2" stroke="#808080" stroke-width="2"/>
  <polyline points="81.0,584.6 82.9,575.9 85.0,566.2 87.5,557.8 89.4,559.7 90.4,566.2 91.5,578.6 92.9,572.7 94.2,571.6 95.3,573.8 96.6,569.5 98.3,568.9 99.4,571.6 100.7,577.0 102.1,584.6 103.4,579.7 105.3,573.4 107.0,566.8 110.6,577.4 112.3,570.1 114.6,568.1 117.2,571.4 118.9,558.9 121.5,557.6 123.8,554.3 125.8,552.3 128.1,557.6 129.4,580.0 131.1,586.0 133.4,593.9 135.7,594.5 137.0,595.8 138.3,614.0 139.5,604.0 140.8,595.8 142.0,605.2 143.9,620.3 144.6,632.9 146.4,621.6 147.7,632.9 149.0,641.8 150.9,637.3 152.1,645.5 153.4,671.3" fill="none" stroke="#f5a02a" stroke-width="2.3" stroke-linejoin="round" stroke-linecap="round"/>
  <polyline points="81.8,585.1 83.4,587.8 85.8,577.0 88.0,569.5 89.6,569.5 92.1,573.2 94.2,578.6 96.4,580.0 99.6,579.2 101.2,576.5 102.6,570.5 104.5,570.0 106.6,572.1 108.0,571.6 109.3,568.8 112.6,559.5 115.2,552.3 117.9,545.0 119.9,538.5 122.1,539.4 124.4,537.1 125.7,529.9 129.0,530.4 132.3,527.5 134.7,526.7 136.3,529.6 138.8,511.3 140.0,516.2 141.2,518.2 143.2,519.0 146.5,525.9 149.3,530.4 151.7,527.5 154.1,524.3 155.8,525.1 157.4,527.9 159.8,517.4 162.2,519.4 164.7,521.9 166.7,523.9 168.3,540.9 170.3,539.7 173.6,541.3 176.4,542.9 178.4,533.2 180.9,530.8 183.0,527.9 186.5,531.8 189.3,532.7 191.3,535.5 193.8,533.9 197.8,534.3 201.1,538.7 202.7,544.4 203.9,550.1 205.1,544.4 206.3,539.5 208.3,542.4 210.4,544.8 212.0,536.3 213.2,535.5 214.8,537.9 216.8,525.8 218.9,515.2 222.1,514.8 225.3,517.3 228.6,514.4 231.8,515.2 233.4,514.4 236.7,508.4 239.9,509.7 242.3,509.3 245.9,513.3 248.8,507.2 250.8,508.9 252.4,521.8 253.2,533.2 256.1,521.8 258.5,512.9 260.9,509.7 263.3,506.4 265.0,499.6 267.4,499.1 270.2,501.2 271.8,500.4 273.9,490.2 275.9,485.4 278.3,487.4 280.3,490.6 283.6,488.2 288.4,490.2 291.3,484.6 294.0,487.7 296.1,488.9 297.7,488.1 299.3,477.5 300.9,482.4 302.6,486.4 305.4,487.2 308.6,484.8 309.8,485.6 311.9,495.7 313.5,484.8 314.7,485.6 315.9,495.7 318.3,494.1 321.6,490.1 323.2,491.3 324.8,501.8 326.4,495.3 328.5,492.5 331.3,492.5 332.5,484.8 334.1,480.8 337.0,473.5 338.6,472.7 341.8,471.9 343.8,465.0 345.9,464.2 347.4,465.1 349.9,466.7 353.1,461.9 356.3,463.5 360.0,466.3 363.6,462.3 366.9,465.1 370.9,460.2 372.9,462.7 375.4,464.3 377.0,476.4 378.2,484.9 379.8,479.7 381.4,470.0 383.5,469.1 385.9,468.3 387.1,478.9 388.7,490.2 390.7,493.0 392.8,490.2 394.4,478.1 396.8,481.3 398.8,484.1 401.7,482.5 405.0,480.5 407.6,472.1 410.5,463.3 412.2,465.8 413.4,472.5 415.5,469.6 417.6,469.6 420.2,470.8 421.4,459.5 422.7,453.6 424.8,449.8 426.9,449.8 428.6,450.7 431.1,447.7 433.6,445.6 436.1,443.9 438.7,447.3 440.8,447.3 442.0,449.0 444.1,450.3 445.8,449.0 447.5,444.4 450.0,442.3 451.3,439.3 452.9,433.4 455.0,429.7 457.8,425.9 459.9,418.2 461.9,419.0 464.3,421.4 468.0,415.8 471.2,417.8 475.2,413.7 479.3,411.7 481.3,410.9 483.3,404.4 485.0,407.7 487.4,408.5 489.0,412.5 490.2,414.6 491.8,410.9 493.5,400.8 494.7,402.0 496.3,404.4 498.7,402.8 502.4,400.8 504.4,396.3 506.8,394.3 510.9,393.1 512.5,397.1 513.8,398.8 516.7,398.4 518.8,401.3 521.3,408.9 523.4,398.0 525.5,401.3 527.2,399.7 529.3,390.4 531.8,390.0 534.4,387.9 536.5,387.5 538.2,373.2 540.7,373.2 542.4,361.0 545.3,364.0 547.4,366.9 549.5,371.5 552.0,370.7 554.0,361.8 555.7,356.4 557.8,353.1 559.8,351.0 561.8,353.1 563.5,357.4 565.2,347.0 567.5,335.9 569.6,338.9 571.9,341.9 574.6,338.6 578.3,340.9 582.4,336.9 583.7,340.9 585.1,345.6" fill="none" stroke="#1b96d9" stroke-width="2.5" stroke-linejoin="round" stroke-linecap="round"/>
  <rect x="602" y="337" width="12" height="12" fill="#1b96d9"/>
  <rect x="602" y="663" width="12" height="11" fill="#f5a02a"/>
  <text x="621.2" y="347.6" font-size="17" fill="#555" textLength="73.6" lengthAdjust="spacingAndGlyphs">First term</text>
  <text x="621" y="673.8" font-size="17" fill="#555" textLength="95.2" lengthAdjust="spacingAndGlyphs">Second term</text>
  <text x="215.8" y="762.6" font-size="14.2" fill="#555" textLength="236" lengthAdjust="spacingAndGlyphs">TRADING DAYS SINCE INAUGURATION DAY</text>
  <text x="40.0" y="793.4" font-size="15.6" fill="#626262" textLength="324.2" lengthAdjust="spacingAndGlyphs">Note: The first term shows through the end of 2017.</text>
  <text x="40.3" y="813.5" font-size="15.6" fill="#626262" textLength="98.5" lengthAdjust="spacingAndGlyphs">Source: FactSet</text>
</svg>
</body></html>
